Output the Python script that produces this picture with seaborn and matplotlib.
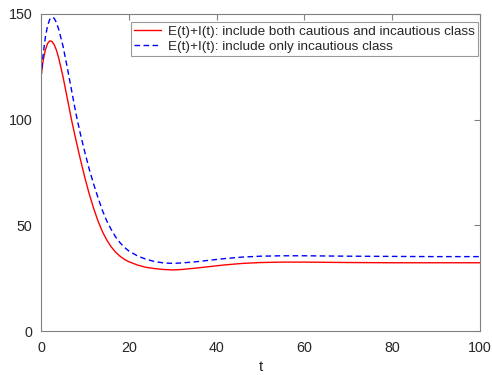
import numpy as np
import pandas as pd
import matplotlib
matplotlib.use("Agg")
import matplotlib.pyplot as plt
import seaborn as sns

t = [0, 0.5, 1, 1.5, 2, 2.5, 3, 3.5, 4, 5, 6, 7, 8, 9, 10, 11, 12, 13, 14, 15, 16, 17, 18, 19, 20,
     22, 24, 26, 28, 30, 32, 35, 38, 42, 46, 50, 55, 60, 65, 70, 80, 90, 100]
both = [120, 128, 133, 136, 137.3, 137, 135.5, 133, 129.5, 120.5, 110, 99.5, 90, 81, 72.5, 64.8, 58, 52, 47,
        43, 39.8, 37.3, 35.4, 33.9, 32.8, 31.2, 30.1, 29.5, 29.1, 28.9, 29.1, 29.7, 30.4, 31.3, 32, 32.4, 32.6,
        32.6, 32.5, 32.4, 32.3, 32.3, 32.3]
only_inc = [120, 131, 139, 144.5, 147.5, 148.5, 148, 146, 143, 135, 124.5, 113.5, 102.5, 93, 84.5, 76.5, 69.5,
            63, 57, 52, 48, 44.5, 41.8, 39.6, 37.9, 35.5, 33.9, 32.8, 32.2, 32, 32.2, 32.7, 33.4, 34.3, 35,
            35.4, 35.6, 35.6, 35.5, 35.4, 35.3, 35.2, 35.2]
labels = ["E(t)+I(t): include both cautious and incautious class",
          "E(t)+I(t): include only incautious class"]

df = pd.DataFrame({
    "t": t * 2,
    "value": both + only_inc,
    "series": [labels[0]] * len(t) + [labels[1]] * len(t),
})

sns.set_style("white")
plt.rcParams["font.family"] = ["Liberation Sans", "DejaVu Sans"]

fig = plt.figure(figsize=(4.92, 3.75), dpi=100)
ax = fig.add_axes([0.0833, 0.1173, 0.8923, 0.8454])

sns.lineplot(data=df, x="t", y="value", hue="series", style="series",
             palette={labels[0]: "#ff0000", labels[1]: "#0000ff"},
             dashes={labels[0]: "", labels[1]: (4, 2.5)},
             linewidth=1.0, ax=ax)

ax.set_xlim(0, 100)
ax.set_ylim(0, 150)
ax.set_xticks([0, 20, 40, 60, 80, 100])
ax.set_yticks([0, 50, 100, 150])
ax.set_xlabel("t", fontsize=11, color="#262626", labelpad=4)
ax.set_ylabel("")
for s in ax.spines.values():
    s.set_visible(True)
    s.set_color("#808080")
    s.set_linewidth(0.8)
ax.tick_params(direction="in", length=4, width=0.8, color="#808080", labelsize=10.3,
               labelcolor="#262626", top=True, right=True)
ax.tick_params(axis="x", pad=7)
ax.tick_params(axis="y", pad=6)

leg = ax.legend(loc="upper right", bbox_to_anchor=(0.9954, 0.975), fontsize=9.7, frameon=True,
                fancybox=False, edgecolor="#808080", handlelength=2.0, handletextpad=0.5,
                borderpad=0.25, labelspacing=0.2, borderaxespad=0.0)
leg.get_frame().set_linewidth(0.8)

fig.savefig("out.png", dpi=100)
